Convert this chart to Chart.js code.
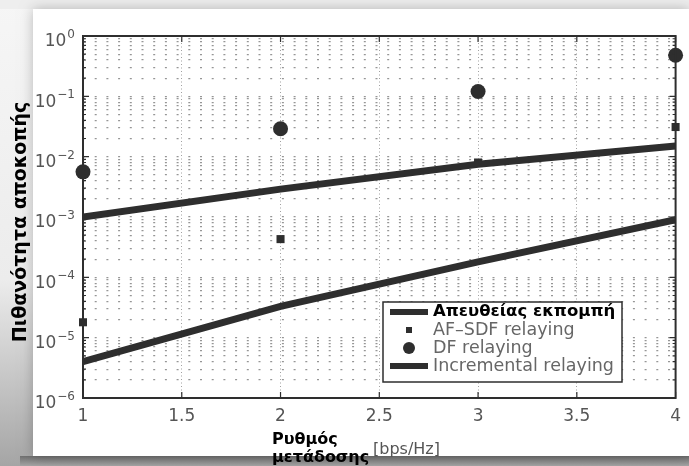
<!DOCTYPE html>
<html>
<head>
<meta charset="utf-8">
<script src="https://cdn.jsdelivr.net/npm/chart.js@4.4.0/dist/chart.umd.min.js"></script>
<style>
  body { margin: 0; background: #fff; }
  canvas { display: block; }
</style>
</head>
<body>
<canvas id="outageChart" width="689" height="466"></canvas>
<script>
// Outage probability vs. transmission rate
const rates = [1, 2, 3, 4];
const directTx = [1.0e-3, 2.9e-3, 7.5e-3, 1.5e-2];
const afSdfRelay = [1.8e-5, 4.3e-4, 8.0e-3, 3.1e-2];
const dfRelay = [5.6e-3, 2.9e-2, 0.12, 0.48];
const incrementalRelay = [4.0e-6, 3.3e-5, 1.8e-4, 9.0e-4];

const seriesLabels = ['Απευθείας εκπομπή', 'AF–SDF relaying', 'DF relaying', 'Incremental relaying'];
const xTicks = [1, 1.5, 2, 2.5, 3, 3.5, 4];
const yMajorTicks = [1e-6, 1e-5, 1e-4, 1e-3, 1e-2, 1e-1, 1];
const yExponents = ['−6', '−5', '−4', '−3', '−2', '−1', '0'];
const yTitle = 'Πιθανότητα αποκοπής';
const xTitleLines = ['Ρυθμός', 'μετάδοσης'];
const xUnit = '[bps/Hz]';

// minor log ticks 2..9 in every decade
const yAllTicks = [];
yMajorTicks.forEach((v, i) => {
    yAllTicks.push(v);
    if (i < yMajorTicks.length - 1) {
        for (let m = 2; m <= 9; m++) yAllTicks.push(v * m);
    }
});

const toPoints = arr => arr.map((y, i) => ({ x: rates[i], y: y }));
const ink = '#2e2e2e';

// Page background + white card with shadow
const backgroundPlugin = {
    id: 'pageBackground',
    beforeDraw(chart) {
        const ctx = chart.ctx;
        ctx.save();
        ctx.fillStyle = '#eeeeee';
        ctx.fillRect(0, 0, chart.width, chart.height);
        const left = ctx.createLinearGradient(0, 0, 0, chart.height);
        left.addColorStop(0, '#f6f6f6');
        left.addColorStop(0.6, '#ececec');
        left.addColorStop(1, '#a5a5a5');
        ctx.fillStyle = left;
        ctx.fillRect(0, 9, 33, chart.height);
        const bottom = ctx.createLinearGradient(0, 456, 0, chart.height);
        bottom.addColorStop(0, '#6f6f6f');
        bottom.addColorStop(1, '#a5a5a5');
        ctx.fillStyle = bottom;
        ctx.fillRect(20, 456, chart.width, chart.height - 456);
        ctx.shadowColor = 'rgba(0,0,0,0.25)';
        ctx.shadowBlur = 12;
        ctx.fillStyle = '#ffffff';
        ctx.fillRect(33, 9, chart.width - 33, 447);
        ctx.restore();
    }
};

// Box frame, inner ticks, y tick labels, axis titles and legend
const decorPlugin = {
    id: 'decor',
    afterDraw(chart) {
        const ctx = chart.ctx;
        const area = chart.chartArea;
        const xs = chart.scales.x;
        const ys = chart.scales.y;
        ctx.save();

        // inner tick marks
        ctx.strokeStyle = ink;
        ctx.lineWidth = 1.2;
        ctx.beginPath();
        yAllTicks.forEach(v => {
            const y = ys.getPixelForValue(v);
            const len = yMajorTicks.includes(v) ? 6 : 3;
            ctx.moveTo(area.left, y); ctx.lineTo(area.left + len, y);
            ctx.moveTo(area.right, y); ctx.lineTo(area.right - len, y);
        });
        xTicks.forEach(v => {
            const x = xs.getPixelForValue(v);
            ctx.moveTo(x, area.bottom); ctx.lineTo(x, area.bottom - 6);
            ctx.moveTo(x, area.top); ctx.lineTo(x, area.top + 6);
        });
        ctx.stroke();

        // frame
        ctx.lineWidth = 2;
        ctx.strokeRect(area.left, area.top, area.right - area.left, area.bottom - area.top);

        // y tick labels 10^n
        ctx.fillStyle = '#555';
        ctx.textAlign = 'right';
        ctx.textBaseline = 'middle';
        yMajorTicks.forEach((v, i) => {
            const y = ys.getPixelForValue(v);
            ctx.font = '12px "DejaVu Sans"';
            const expW = ctx.measureText(yExponents[i]).width;
            ctx.fillText(yExponents[i], 75, y - 1);
            ctx.font = '17px "DejaVu Sans"';
            ctx.fillText('10', 75 - expW - 1, y + 6);
        });

        // y title
        ctx.save();
        ctx.translate(21, 222);
        ctx.rotate(-Math.PI / 2);
        ctx.textAlign = 'center';
        ctx.fillStyle = '#000';
        ctx.font = 'bold 19px "DejaVu Sans"';
        ctx.fillText(yTitle, 0, 0);
        ctx.restore();

        // x title
        ctx.textAlign = 'left';
        ctx.fillStyle = '#000';
        ctx.font = 'bold 16px "DejaVu Sans"';
        ctx.fillText(xTitleLines[0], 272, 440);
        ctx.fillText(xTitleLines[1], 272, 458);
        ctx.fillStyle = '#555';
        ctx.font = '16px "DejaVu Sans"';
        ctx.fillText(xUnit, 373, 450);

        // legend
        const box = { left: 383, top: 302, right: 622, bottom: 382 };
        ctx.fillStyle = '#fff';
        ctx.fillRect(box.left, box.top, box.right - box.left, box.bottom - box.top);
        ctx.strokeStyle = ink;
        ctx.lineWidth = 1.5;
        ctx.strokeRect(box.left, box.top, box.right - box.left, box.bottom - box.top);
        const rowY = [312, 330, 348, 366];
        chart.data.datasets.forEach((ds, i) => {
            const y = rowY[i];
            ctx.fillStyle = ink;
            if (ds.showLine === false) {
                if (ds.pointStyle === 'rect') {
                    ctx.fillRect(406, y - 3, 6, 6);
                } else {
                    ctx.beginPath();
                    ctx.arc(409, y, 6, 0, Math.PI * 2);
                    ctx.fill();
                }
            } else {
                ctx.fillRect(390, y - 3, 38, 6);
            }
            if (i === 0) {
                ctx.fillStyle = '#000';
                ctx.font = 'bold 16.5px "DejaVu Sans"';
            } else {
                ctx.fillStyle = '#666';
                ctx.font = '17.5px "DejaVu Sans"';
            }
            ctx.fillText(ds.label, 433, y);
        });

        ctx.restore();
    }
};

const ctx = document.getElementById('outageChart').getContext('2d');
const outageChart = new Chart(ctx, {
    type: 'line',
    data: {
        datasets: [{
            label: seriesLabels[0],
            data: toPoints(directTx),
            borderColor: ink,
            borderWidth: 7,
            pointRadius: 0,
            tension: 0
        }, {
            label: seriesLabels[1],
            data: toPoints(afSdfRelay),
            showLine: false,
            pointStyle: 'rect',
            pointRadius: 5.7,
            pointBorderWidth: 0,
            pointBackgroundColor: ink,
            clip: false
        }, {
            label: seriesLabels[2],
            data: toPoints(dfRelay),
            showLine: false,
            pointStyle: 'circle',
            pointRadius: 7.5,
            pointBorderWidth: 0,
            pointBackgroundColor: ink,
            clip: false
        }, {
            label: seriesLabels[3],
            data: toPoints(incrementalRelay),
            borderColor: ink,
            borderWidth: 7,
            pointRadius: 0,
            tension: 0
        }]
    },
    options: {
        responsive: false,
        animation: false,
        layout: { padding: { top: 36, right: 6, left: 0, bottom: 0 } },
        plugins: {
            legend: { display: false },
            tooltip: { enabled: false }
        },
        scales: {
            x: {
                type: 'linear',
                min: 1,
                max: 4,
                afterBuildTicks: scale => { scale.ticks = xTicks.map(v => ({ value: v })); },
                afterFit: scale => { scale.height = 68; },
                ticks: {
                    callback: v => String(v),
                    color: '#555',
                    font: { family: 'DejaVu Sans', size: 17 },
                    padding: 8,
                    maxRotation: 0
                },
                grid: { color: '#a0a0a0', lineWidth: 1, drawTicks: false },
                border: { display: false, dash: [1, 2.5] }
            },
            y: {
                type: 'logarithmic',
                min: 1e-6,
                max: 1,
                afterBuildTicks: scale => { scale.ticks = yAllTicks.map(v => ({ value: v })); },
                afterFit: scale => { scale.width = 83; },
                ticks: { display: false },
                grid: { color: '#969696', lineWidth: 1.2, drawTicks: false },
                border: { display: false, dash: [2, 9.7] }
            }
        }
    },
    plugins: [backgroundPlugin, decorPlugin]
});
</script>
</body>
</html>
